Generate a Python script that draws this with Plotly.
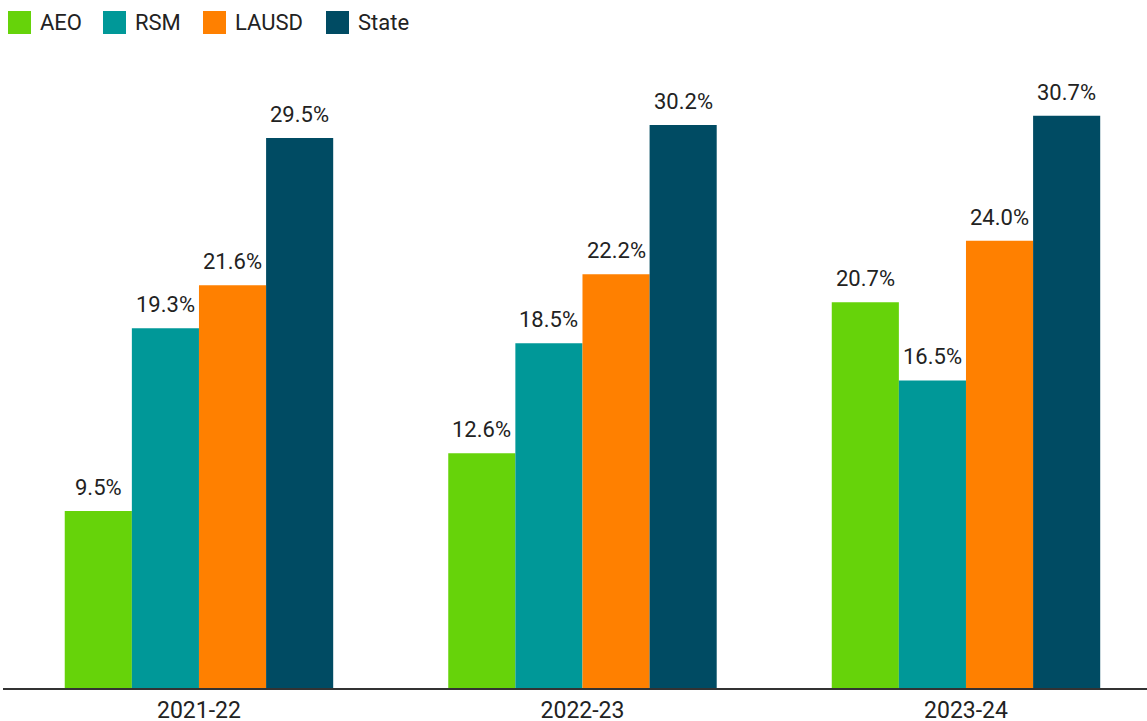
import plotly.graph_objects as go

years = ["2021-22", "2022-23", "2023-24"]
series_names = ["AEO", "RSM", "LAUSD", "State"]
aeo = [9.5, 12.6, 20.7]
rsm = [19.3, 18.5, 16.5]
lausd = [21.6, 22.2, 24.0]
state = [29.5, 30.2, 30.7]
colors = ["#66d30a", "#009898", "#ff8000", "#004b63"]

W, H = 1147, 721
ml, mr, mt, mb = 3, 0, 60, 33
pw, ph = W - ml - mr, H - mt - mb
xrange_ = [-0.511, 2.472]
px_per_cat = pw / (xrange_[1] - xrange_[0])
bargap = 0.3
bar_px = px_per_cat * (1 - bargap) / len(series_names)

fig = go.Figure()
all_vals = [aeo, rsm, lausd, state]
for i, (name, vals, c) in enumerate(zip(series_names, all_vals, colors)):
    fig.add_trace(go.Bar(
        x=years, y=vals, name=name, marker_color=c, marker_line_width=0,
        showlegend=False, hoverinfo="x+y",
    ))
    off = (i - (len(series_names) - 1) / 2) * bar_px
    for yr, v in zip(years, vals):
        fig.add_annotation(x=yr, y=v, xref="x", yref="y", text=f"{v:.1f}%",
                           showarrow=False, xanchor="center", yanchor="bottom",
                           xshift=off, yshift=9,
                           font=dict(size=22, color="#222222", family="Roboto"))

# custom legend
lx = [8, 103, 203, 326]
for name, c, x in zip(series_names, colors, lx):
    fig.add_shape(type="rect", xref="paper", yref="paper",
                  x0=(x - ml) / pw, x1=(x + 23 - ml) / pw,
                  y0=(H - mb - 34) / ph, y1=(H - mb - 11) / ph,
                  fillcolor=c, line_width=0, layer="above")
    fig.add_annotation(xref="paper", yref="paper", x=(x + 30 - ml) / pw,
                       y=(H - mb - 22.5) / ph, text=name, showarrow=False,
                       xanchor="left", yanchor="middle",
                       font=dict(size=22, color="#222222", family="Roboto"))

fig.update_layout(
    width=W, height=H,
    margin=dict(l=ml, r=mr, t=mt, b=mb),
    barmode="group", bargap=bargap, bargroupgap=0,
    plot_bgcolor="white", paper_bgcolor="white",
    font=dict(family="Roboto", color="#222222"),
    xaxis=dict(range=xrange_, showline=True, linecolor="#333333",
               linewidth=2, ticks="", automargin=False, ticklabelstandoff=0,
               tickfont=dict(size=23, color="#222222")),
    yaxis=dict(range=[0, 33.69], visible=False, showgrid=False,
               automargin=False),
)
fig.write_html("out.html")
